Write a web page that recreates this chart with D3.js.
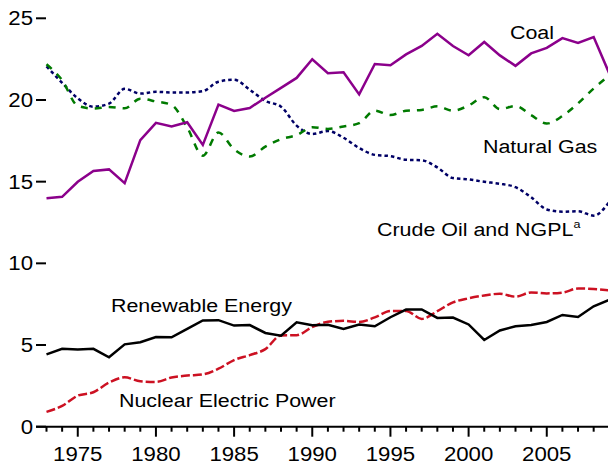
<!DOCTYPE html>
<html>
<head>
<meta charset="utf-8">
<script src="https://cdn.jsdelivr.net/npm/d3@7"></script>
<style>
  html, body { margin: 0; padding: 0; background: #fff; }
  svg { display: block; font-family: "Liberation Sans", Arial, sans-serif; }
</style>
</head>
<body>
<div id="main"></div>
<script>
/// data (quadrillion Btu) ///
const years = d3.range(1973, 2010);

const coal = [13.99, 14.07, 14.99, 15.65, 15.75, 14.91, 17.54, 18.60, 18.38, 18.64,
  17.25, 19.72, 19.33, 19.51, 20.14, 20.74, 21.35, 22.49, 21.64, 21.69,
  20.34, 22.20, 22.13, 22.79, 23.31, 24.05, 23.30, 22.74, 23.55, 22.73,
  22.09, 22.85, 23.19, 23.79, 23.49, 23.85, 21.62];

const naturalGas = [22.19, 21.21, 19.64, 19.48, 19.57, 19.49, 20.08, 19.91, 19.70, 18.32,
  16.59, 18.01, 16.98, 16.54, 17.14, 17.60, 17.85, 18.33, 18.23, 18.38,
  18.58, 19.35, 19.08, 19.34, 19.39, 19.61, 19.34, 19.66, 20.17, 19.44,
  19.63, 19.07, 18.56, 19.02, 19.79, 20.70, 21.50];

const crudeOil = [22.06, 21.05, 20.10, 19.59, 19.78, 20.68, 20.39, 20.50, 20.46, 20.46,
  20.54, 21.12, 21.24, 20.63, 19.94, 19.59, 18.43, 17.92, 18.10, 17.69,
  17.06, 16.64, 16.56, 16.34, 16.31, 15.87, 15.22, 15.14, 14.99, 14.87,
  14.66, 14.05, 13.30, 13.16, 13.19, 12.92, 13.76];

const nuclear = [0.91, 1.27, 1.90, 2.11, 2.70, 3.02, 2.78, 2.74, 3.01, 3.13,
  3.20, 3.55, 4.08, 4.38, 4.75, 5.59, 5.60, 6.10, 6.42, 6.48,
  6.41, 6.69, 7.08, 7.09, 6.60, 7.07, 7.61, 7.86, 8.03, 8.14,
  7.96, 8.22, 8.16, 8.21, 8.46, 8.43, 8.35];

const renewable = [4.43, 4.77, 4.72, 4.77, 4.25, 5.04, 5.17, 5.49, 5.47, 5.99,
  6.50, 6.52, 6.19, 6.22, 5.74, 5.57, 6.39, 6.21, 6.24, 5.99,
  6.26, 6.15, 6.70, 7.17, 7.18, 6.66, 6.68, 6.26, 5.31, 5.89,
  6.15, 6.23, 6.41, 6.84, 6.72, 7.37, 7.76];

const xTickLabels = [1975, 1980, 1985, 1990, 1995, 2000, 2005];
const yTickLabels = [0, 5, 10, 15, 20, 25];

/// chart ///
const w = 608;
const h = 466;
const stretch = 1.14;   // text in the source is a little wide

let svg = d3.select('#main')
    .append('svg')
    .attr('width', w)
    .attr('height', h);

let xScale = d3.scaleLinear()
    .domain([1973, 2009])
    .range([46.5, 609.3]);

let yScale = d3.scaleLinear()
    .domain([0, 25])
    .range([426.7, 18.3]);

// x axis line + ticks
svg.append('line')
    .attr('x1', 36).attr('x2', w)
    .attr('y1', yScale(0)).attr('y2', yScale(0))
    .attr('stroke', '#000').attr('stroke-width', 2);

svg.selectAll('.xtick')
    .data(years)
    .enter()
    .append('line')
    .attr('x1', d => xScale(d)).attr('x2', d => xScale(d))
    .attr('y1', yScale(0))
    .attr('y2', d => yScale(0) + (d % 5 === 0 ? 10 : 5))
    .attr('stroke', '#000').attr('stroke-width', 2);

svg.selectAll('.xlabel')
    .data(xTickLabels)
    .enter()
    .append('text')
    .attr('transform', d => `translate(${xScale(d)},461) scale(${stretch},1)`)
    .attr('text-anchor', 'middle')
    .style('font-size', '19.5px')
    .text(d => d);

// y ticks
svg.selectAll('.ytick')
    .data(yTickLabels)
    .enter()
    .append('line')
    .attr('x1', 36).attr('x2', 46)
    .attr('y1', d => yScale(d)).attr('y2', d => yScale(d))
    .attr('stroke', '#000').attr('stroke-width', 2);

svg.selectAll('.ylabel')
    .data(yTickLabels)
    .enter()
    .append('text')
    .attr('transform', d => `translate(33,${yScale(d) + 7}) scale(${stretch},1)`)
    .attr('text-anchor', 'end')
    .style('font-size', '19.5px')
    .text(d => d);

// series
const series = [
  { values: crudeOil, color: '#000066', dash: '3.5,3', curve: d3.curveMonotoneX },
  { values: naturalGas, color: '#007a00', dash: '7,7', curve: d3.curveMonotoneX },
  { values: coal, color: '#8b008b', dash: null, curve: d3.curveLinear },
  { values: nuclear, color: '#cc1122', dash: '9,3', curve: d3.curveMonotoneX },
  { values: renewable, color: '#000000', dash: null, curve: d3.curveLinear }
];

series.forEach(s => {
  let line = d3.line()
      .x((d, i) => xScale(years[i]))
      .y(d => yScale(d))
      .curve(s.curve);

  svg.append('path')
      .datum(s.values)
      .attr('d', line)
      .attr('fill', 'none')
      .attr('stroke', s.color)
      .attr('stroke-width', 2.5)
      .attr('stroke-dasharray', s.dash);
});

// labels
const labels = [
  ['Coal', 510, 38.5],
  ['Natural Gas', 483, 152.5],
  ['Crude Oil and NGPL', 377, 236],
  ['Renewable Energy', 111, 311.5],
  ['Nuclear Electric Power', 119, 406.5]
];

labels.forEach(l => {
  let t = svg.append('text')
      .attr('transform', `translate(${l[1]},${l[2]}) scale(${stretch},1)`)
      .style('font-size', '18.8px')
      .text(l[0]);
  if (l[0].startsWith('Crude')) {
    t.append('tspan')
        .attr('dy', -8)
        .style('font-size', '11px')
        .text('a');
  }
});
</script>
</body>
</html>
